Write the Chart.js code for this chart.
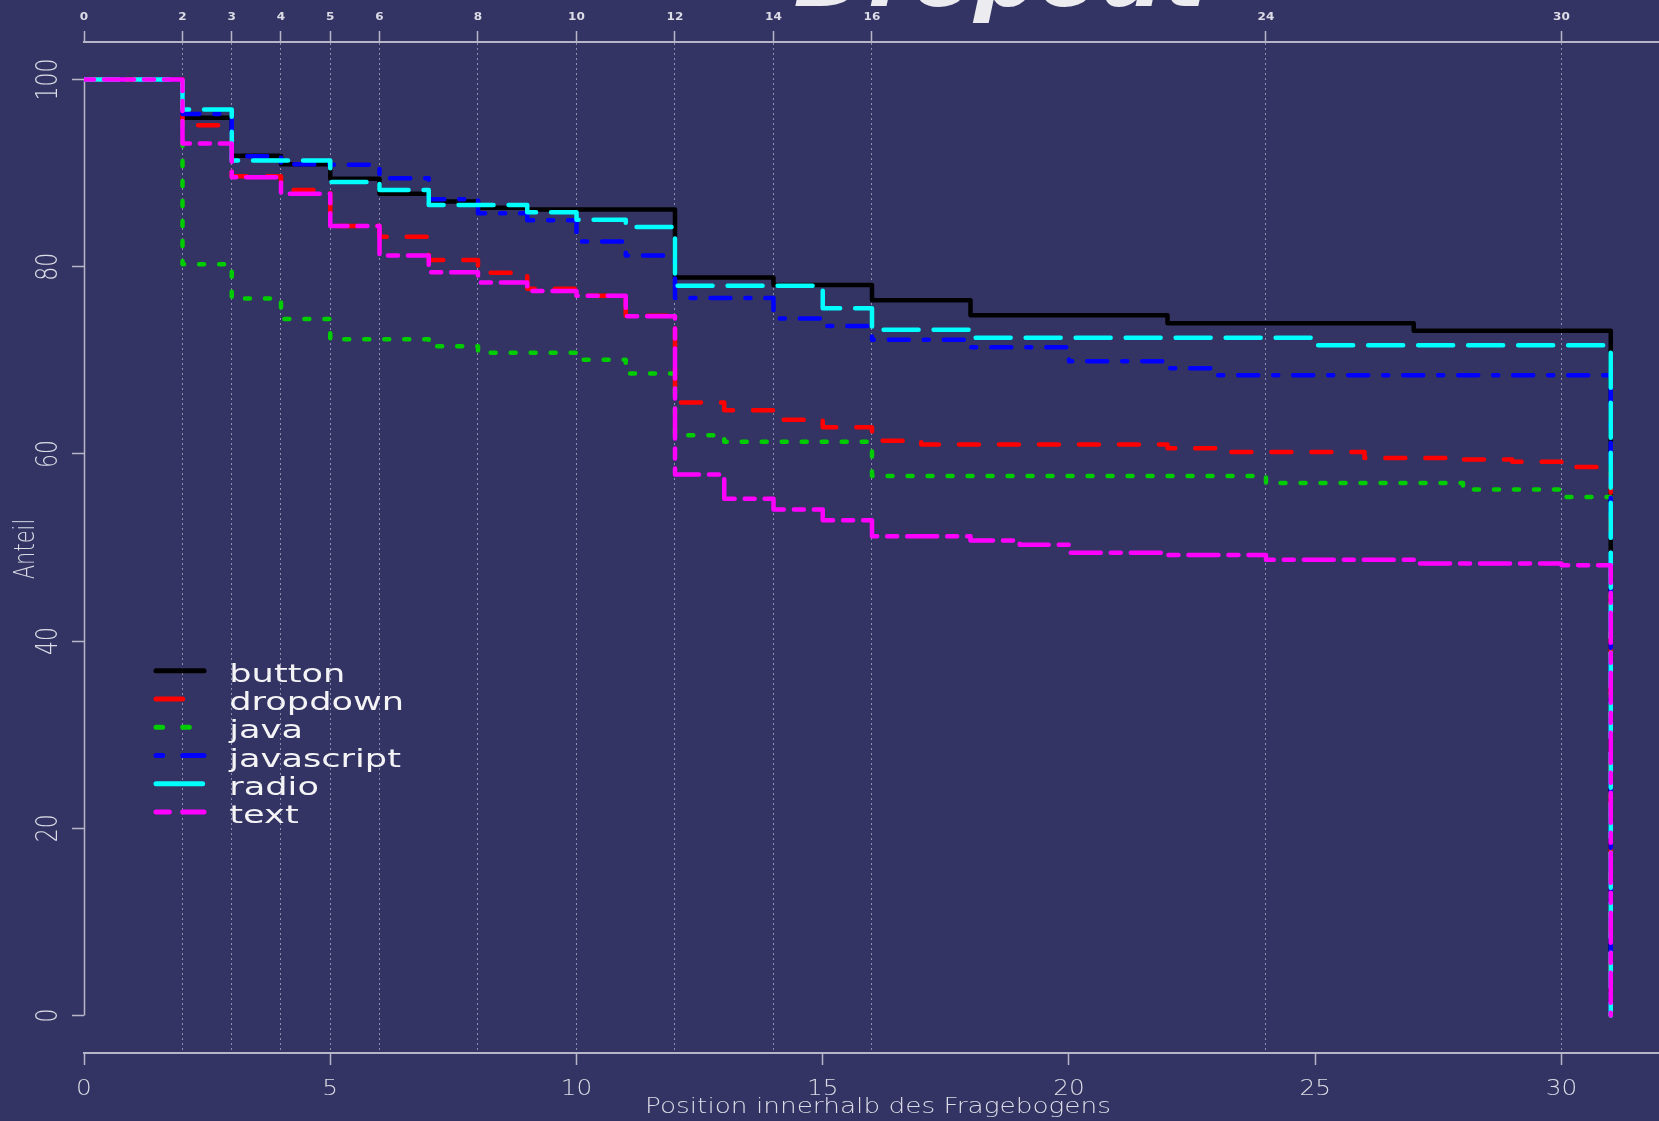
<!DOCTYPE html>
<html>
<head>
<meta charset="utf-8">
<script src="https://cdn.jsdelivr.net/npm/chart.js@4.4.1/dist/chart.umd.min.js"></script>
<style>
html,body{margin:0;padding:0;background:#343464;overflow:hidden}
#wrap{position:relative;width:1659px;height:1121px}
canvas{display:block}
</style>
</head>
<body>
<div id="wrap"><canvas id="c" width="1659" height="1121"></canvas></div>
<script>
// ---------- data ----------
const positions = [0,1,2,3,4,5,6,7,8,9,10,11,12,13,14,15,16,17,18,19,20,21,22,23,24,25,26,27,28,29,30,31];
const seriesNames = ['button','dropdown','java','javascript','radio','text'];
const button     = [100,100,95.9,91.85,90.95,89.4,87.8,86.95,86.3,86.1,86.1,86.1,78.85,78.85,78.05,78.05,76.4,76.4,74.8,74.8,74.8,74.8,73.95,73.95,73.95,73.95,73.95,73.15,73.15,73.15,73.15,0];
const dropdown   = [100,100,95.1,89.65,88.2,84.35,83.2,80.7,79.35,77.65,76.9,74.75,65.5,64.65,63.65,62.85,61.4,61.0,61.0,61.0,61.0,61.0,60.6,60.2,60.2,60.2,59.55,59.55,59.4,59.15,58.6,0];
const java       = [100,100,80.25,76.6,74.4,72.25,72.25,71.5,70.8,70.8,70.05,68.6,62.0,61.3,61.3,61.3,57.65,57.65,57.65,57.65,57.65,57.65,57.65,57.65,56.9,56.9,56.9,56.9,56.2,56.2,55.4,0];
const javascript = [100,100,96.3,91.8,90.95,90.9,89.45,87.2,85.7,84.95,82.7,81.2,76.65,76.65,74.45,73.65,72.2,72.2,71.4,71.4,69.9,69.9,69.15,68.4,68.4,68.4,68.4,68.4,68.4,68.4,68.4,0];
const radio      = [100,100,96.8,91.35,91.35,89.05,88.2,86.6,86.6,85.8,85.0,84.25,77.95,77.95,77.95,75.55,73.25,73.25,72.4,72.4,72.4,72.4,72.4,72.4,72.4,71.6,71.6,71.6,71.6,71.6,71.6,0];
const text       = [100,100,93.15,89.55,87.8,84.35,81.2,79.4,78.3,77.4,76.9,74.7,57.8,55.2,54.05,52.9,51.2,51.2,50.75,50.3,49.45,49.45,49.2,49.2,48.7,48.7,48.7,48.3,48.3,48.3,48.1,0];
const bottomTicks = [0,5,10,15,20,25,30];
const topTicks    = [0,2,3,4,5,6,8,10,12,14,16,24,30];
const yTicks      = [0,20,40,60,80,100];
const titleText = 'Dropout';
const xTitle = 'Position innerhalb des Fragebogens';
const yTitle = 'Anteil';

// ---------- styles ----------
const seriesValues = [button, dropdown, java, javascript, radio, text];
const colors = ['#000000','#ff0000','#00cd00','#0000ff','#00ffff','#ff00ff'];
const dashes = [[],[20,20],[5,15],[5,15,20,15],[35,15],[10,10,30,10]];
const bg = '#343464';
const axisColor = '#b6b6c8';
const gridColor = '#8e8eae';
const textColor = '#dcdce6';

function drawText(ctx, str, x, y, font, color, align, sx, rot) {
  ctx.save();
  ctx.font = font; ctx.fillStyle = color; ctx.textAlign = align; ctx.textBaseline = 'alphabetic';
  ctx.translate(x, y);
  ctx.scale(sx, 1);
  if (rot) ctx.rotate(rot);
  ctx.fillText(str, 0, 0);
  ctx.restore();
}
function fitScale(ctx, str, font, target) {
  ctx.save(); ctx.font = font; const w = ctx.measureText(str).width; ctx.restore();
  return target / w;
}

const decor = {
  id: 'decor',
  beforeDraw(chart) {
    const ctx = chart.ctx;
    ctx.save(); ctx.fillStyle = bg; ctx.fillRect(0, 0, chart.width, chart.height); ctx.restore();
  },
  beforeDatasetsDraw(chart) {
    const ctx = chart.ctx, ys = chart.scales.y, xs = chart.scales.x;
    const x0 = Math.round(xs.getPixelForValue(0)) + 0.5;
    ctx.save();
    ctx.strokeStyle = axisColor; ctx.lineWidth = 1.5;
    ctx.beginPath();
    ctx.moveTo(x0, ys.getPixelForValue(yTicks[0]));
    ctx.lineTo(x0, ys.getPixelForValue(yTicks[yTicks.length - 1]));
    ctx.stroke();
    ctx.restore();
  },
  afterDraw(chart) {
    const ctx = chart.ctx;
    const xs = chart.scales.x, x2 = chart.scales.x2, ys = chart.scales.y;
    // bottom tick labels
    xs.ticks.forEach(t => {
      drawText(ctx, String(t.value), xs.getPixelForValue(t.value), 1095, '300 21px "DejaVu Sans"', textColor, 'center', 1.18);
    });
    // top tick labels
    x2.ticks.forEach(t => {
      drawText(ctx, String(t.value), x2.getPixelForValue(t.value), 19.5, '600 10.5px "DejaVu Sans"', textColor, 'center', 1.15);
    });
    // y tick labels (rotated)
    ys.ticks.forEach(t => {
      drawText(ctx, String(t.value), 57, ys.getPixelForValue(t.value), '300 22px "DejaVu Sans"', textColor, 'center', 1.34, -Math.PI / 2);
    });
    // axis titles
    drawText(ctx, yTitle, 33.5, 549, '300 21px "DejaVu Sans"', textColor, 'center', 1.37, -Math.PI / 2);
    const xf = '300 20.5px "DejaVu Sans"';
    drawText(ctx, xTitle, 878, 1113, xf, textColor, 'center', fitScale(ctx, xTitle, xf, 466));
    // main title (cropped at top)
    const tf = 'italic bold 82px "DejaVu Sans"';
    drawText(ctx, titleText, 1000, 6, tf, '#ececf0', 'center', fitScale(ctx, titleText, tf, 413));
    // legend
    const lf = '24px "DejaVu Sans"';
    const lsx = fitScale(ctx, 'dropdown', lf, 174.7);
    chart.data.datasets.forEach((ds, i) => {
      const y = 670.7 + i * 28.27;
      ctx.save();
      ctx.strokeStyle = ds.borderColor; ctx.lineWidth = 5; ctx.lineCap = 'round';
      ctx.setLineDash(dashes[i].map(d => d * 1.333));
      ctx.beginPath(); ctx.moveTo(156, y); ctx.lineTo(204, y); ctx.stroke();
      ctx.restore();
      drawText(ctx, ds.label, 229.3, y + 11, lf, '#f4f4f6', 'left', lsx);
    });
  }
};

const datasets = seriesNames.map((name, i) => ({
  label: name,
  data: positions.map((x, j) => ({ x: x, y: seriesValues[i][j] })),
  borderColor: colors[i],
  backgroundColor: colors[i],
  borderWidth: 4.5,
  borderDash: dashes[i],
  borderCapStyle: 'round',
  borderJoinStyle: 'round',
  stepped: 'before',
  pointRadius: 0,
  fill: false,
  order: seriesNames.length - 1 - i
}));

new Chart(document.getElementById('c'), {
  type: 'line',
  data: { datasets: datasets },
  options: {
    responsive: false,
    maintainAspectRatio: false,
    animation: false,
    devicePixelRatio: 1,
    layout: { padding: 0 },
    plugins: { legend: { display: false }, tooltip: { enabled: false }, title: { display: false } },
    scales: {
      x: {
        type: 'linear', position: 'bottom', min: 0, max: 31.98,
        afterBuildTicks: s => { s.ticks = bottomTicks.map(v => ({ value: v })); },
        ticks: { display: false },
        grid: { display: true, drawOnChartArea: false, drawTicks: true, tickLength: 12, tickColor: axisColor, tickWidth: 1.5 },
        border: { display: true, color: axisColor, width: 2 },
        afterFit: s => { s.height = 68; }
      },
      x2: {
        type: 'linear', position: 'top', min: 0, max: 31.98,
        afterBuildTicks: s => { s.ticks = topTicks.map(v => ({ value: v })); },
        ticks: { display: false },
        grid: {
          display: true, drawOnChartArea: true, drawTicks: true, tickLength: 11,
          color: c => (c.tick && c.tick.value === 0) ? 'rgba(0,0,0,0)' : gridColor,
          lineWidth: 1, tickColor: axisColor, tickWidth: 1.5
        },
        border: { display: true, color: axisColor, width: 2, dash: [2, 3] },
        afterFit: s => { s.height = 42; }
      },
      y: {
        type: 'linear', position: 'left', min: -4, max: 104,
        afterBuildTicks: s => { s.ticks = yTicks.map(v => ({ value: v })); },
        ticks: { display: false },
        grid: { display: true, drawOnChartArea: false, drawTicks: true, tickLength: 12, tickColor: axisColor, tickWidth: 1.5 },
        border: { display: false },
        afterFit: s => { s.width = 84; }
      }
    }
  },
  plugins: [decor]
});
</script>
</body>
</html>
